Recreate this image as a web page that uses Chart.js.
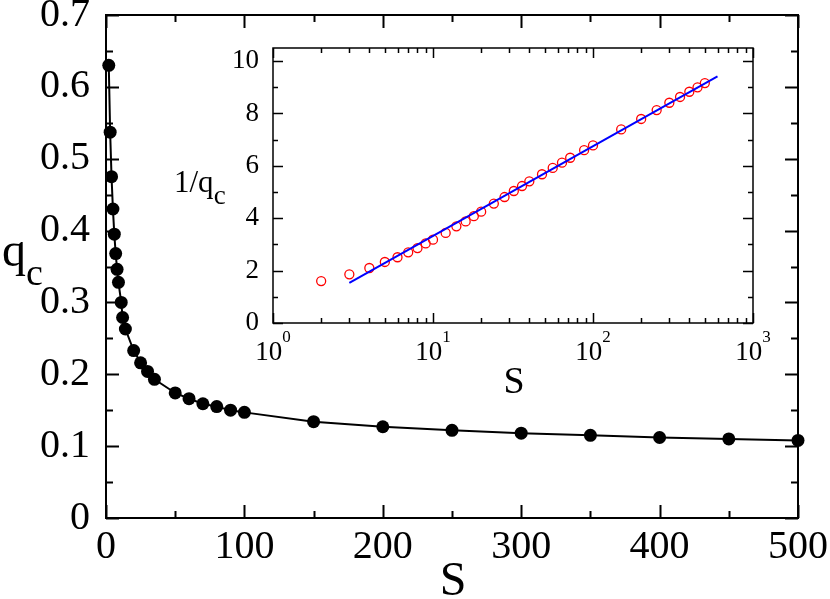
<!DOCTYPE html>
<html>
<head>
<meta charset="utf-8">
<script src="https://cdn.jsdelivr.net/npm/chart.js@4.4.1/dist/chart.umd.min.js"></script>
<style>
  html, body { margin: 0; padding: 0; background: #fff; }
  #wrap { position: relative; width: 830px; height: 599px; overflow: hidden; font-family: 'Liberation Serif', 'Times New Roman', serif; color: #000; }
  canvas { position: absolute; }
  #main { left: 0; top: 0; }
  #inset { left: 200px; top: 30px; pointer-events: none; }
  .lbl { position: absolute; line-height: 1; white-space: nowrap; }
  .sub { position: relative; }
</style>
</head>
<body>
<div id="wrap">
  <canvas id="main" width="830" height="599"></canvas>
  <canvas id="inset" width="600" height="360"></canvas>
  <div class="lbl" id="xTitle" style="font-size:48px; left:453px; top:555px; transform:translateX(-50%);">S</div>
  <div class="lbl" id="yTitle" style="font-size:48px; left:2px; top:226px;">q<span class="sub" style="font-size:38px; top:19px;">c</span></div>
  <div class="lbl" id="insetYTitle" style="font-size:31px; left:174px; top:166px;">1/q<span class="sub" style="font-size:27px; top:12px;">c</span></div>
  <div class="lbl" id="insetXTitle" style="font-size:38px; left:514px; top:361px; transform:translateX(-50%);">S</div>
</div>
<script>
// main panel: q_c against S
const mainS = [2, 3, 4, 5, 6, 7, 8, 9, 11, 12, 14, 20, 25, 30, 35, 50, 60, 70, 80, 90, 100,
  150, 200, 250, 300, 350, 400, 450, 500];
const mainQ = [0.630, 0.537, 0.475, 0.430, 0.395, 0.368, 0.346, 0.328, 0.300, 0.279, 0.263, 0.233,
  0.216, 0.204, 0.193, 0.174, 0.166, 0.159, 0.155, 0.150, 0.147,
  0.134, 0.127, 0.122, 0.118, 0.115, 0.112, 0.110, 0.108];
const mainXTicks = [0, 100, 200, 300, 400, 500];
const mainXMinor = [50, 150, 250, 350, 450];
const mainYTicks = [0, 0.1, 0.2, 0.3, 0.4, 0.5, 0.6, 0.7];
const mainYLabels = ['0', '0.1', '0.2', '0.3', '0.4', '0.5', '0.6', '0.7'];
const mainYMinor = [0.05, 0.15, 0.25, 0.35, 0.45, 0.55, 0.65];

// inset: 1/q_c against S on log axis
const insetS = [2, 3, 4, 5, 6, 7, 8, 9, 10, 12, 14, 16, 18, 20, 24, 28, 32, 36, 40, 48, 56, 64, 72, 88, 100,
  150, 200, 250, 300, 350, 400, 450, 500];
const insetV = [1.60, 1.86, 2.10, 2.33, 2.51, 2.70, 2.86, 3.04, 3.18, 3.44, 3.69, 3.88, 4.08, 4.25, 4.56,
  4.81, 5.04, 5.23, 5.41, 5.68, 5.92, 6.12, 6.31, 6.60, 6.78,
  7.39, 7.79, 8.13, 8.41, 8.63, 8.83, 9.00, 9.16];
const fitS = [3, 600];
const fitV = [1.53, 9.42];
const insetXTicks = [1, 10, 100, 1000];
const insetXExp = ['0', '1', '2', '3'];
const insetXMinor = [2, 3, 4, 5, 6, 7, 8, 9, 20, 30, 40, 50, 60, 70, 80, 90, 200, 300, 400, 500, 600, 700, 800, 900];
const insetYTicks = [0, 2, 4, 6, 8, 10];
const insetYMinor = [1, 3, 5, 7, 9];

const SERIF = "'Liberation Serif', 'Times New Roman', serif";

// frame plus inward ticks on all four sides
const frameTicks = {
  id: 'frameTicks',
  beforeDatasetsDraw(chart, args, opts) {
    const { ctx, chartArea: a, scales } = chart;
    const xs = scales.x;
    const ys = scales.y;
    ctx.save();
    ctx.strokeStyle = '#000';
    ctx.lineWidth = opts.lineWidth;
    ctx.strokeRect(a.left, a.top, a.right - a.left, a.bottom - a.top);
    ctx.beginPath();
    const xt = (vals, len) => {
      vals.forEach((v) => {
        const p = Math.round(xs.getPixelForValue(v)) + 0.5;
        ctx.moveTo(p, a.bottom); ctx.lineTo(p, a.bottom - len);
        ctx.moveTo(p, a.top); ctx.lineTo(p, a.top + len);
      });
    };
    const yt = (vals, len) => {
      vals.forEach((v) => {
        const p = Math.round(ys.getPixelForValue(v)) + 0.5;
        ctx.moveTo(a.left, p); ctx.lineTo(a.left + len, p);
        ctx.moveTo(a.right, p); ctx.lineTo(a.right - len, p);
      });
    };
    xt(opts.xMajor, opts.major); xt(opts.xMinor, opts.minor);
    yt(opts.yMajor, opts.major); yt(opts.yMinor, opts.minor);
    ctx.stroke();
    ctx.restore();
  },
};

// 10^n labels under the log axis
const powerLabels = {
  id: 'powerLabels',
  afterDraw(chart, args, opts) {
    if (!opts.values) return;
    const { ctx, chartArea: a, scales } = chart;
    ctx.save();
    ctx.fillStyle = '#000';
    ctx.textBaseline = 'alphabetic';
    ctx.textAlign = 'left';
    opts.values.forEach((v, i) => {
      const p = scales.x.getPixelForValue(v);
      ctx.font = '27px ' + SERIF;
      const wb = ctx.measureText('10').width;
      ctx.font = '17px ' + SERIF;
      const we = ctx.measureText(opts.exps[i]).width;
      const start = p - (wb + we) / 2;
      ctx.font = '27px ' + SERIF;
      ctx.fillText('10', start, a.bottom + 37);
      ctx.font = '17px ' + SERIF;
      ctx.fillText(opts.exps[i], start + wb, a.bottom + 19);
    });
    ctx.restore();
  },
};

Chart.register(frameTicks, powerLabels);

const pts = (xs, ys) => xs.map((x, i) => ({ x, y: ys[i] }));

function fixBox(w, h) {
  return (s) => {
    if (w != null) s.width = w;
    if (h != null) s.height = h;
    s.paddingTop = 0; s.paddingBottom = 0; s.paddingLeft = 0; s.paddingRight = 0;
  };
}

new Chart(document.getElementById('main'), {
  type: 'scatter',
  data: {
    datasets: [{
      data: pts(mainS, mainQ),
      showLine: true,
      borderColor: '#000',
      borderWidth: 2,
      pointRadius: 6.5,
      pointBackgroundColor: '#000',
      pointBorderWidth: 0,
      clip: false,
    }],
  },
  options: {
    responsive: false,
    animation: false,
    events: [],
    layout: { padding: { left: 0, top: 15, right: 32, bottom: 0 } },
    plugins: {
      legend: { display: false },
      tooltip: { enabled: false },
      frameTicks: { lineWidth: 2, major: 13, minor: 7, xMajor: mainXTicks, xMinor: mainXMinor, yMajor: mainYTicks, yMinor: mainYMinor },
    },
    scales: {
      x: {
        type: 'linear', min: 0, max: 500,
        afterBuildTicks: (s) => { s.ticks = mainXTicks.map((value) => ({ value })); },
        afterFit: fixBox(null, 81),
        grid: { display: false },
        border: { display: false },
        ticks: { color: '#000', font: { family: SERIF, size: 40 }, padding: -3, maxRotation: 0, autoSkip: false, callback: (v) => String(v) },
      },
      y: {
        type: 'linear', min: 0, max: 0.7,
        afterBuildTicks: (s) => { s.ticks = mainYTicks.map((value) => ({ value })); },
        afterFit: fixBox(106, null),
        grid: { display: false },
        border: { display: false },
        ticks: { color: '#000', font: { family: SERIF, size: 40 }, padding: 8, autoSkip: false,
          callback: (v) => mainYLabels[mainYTicks.findIndex((t) => Math.abs(t - v) < 1e-9)] },
      },
    },
  },
});

new Chart(document.getElementById('inset'), {
  type: 'scatter',
  data: {
    datasets: [
      {
        data: pts(fitS, fitV),
        showLine: true,
        borderColor: '#0000ff',
        borderWidth: 2,
        pointRadius: 0,
      },
      {
        data: pts(insetS, insetV),
        showLine: false,
        pointRadius: 4.5,
        pointBorderColor: '#ff0000',
        pointBackgroundColor: 'rgba(0,0,0,0)',
        pointBorderWidth: 1.3,
      },
    ],
  },
  options: {
    responsive: false,
    animation: false,
    events: [],
    layout: { padding: { left: 0, top: 18, right: 47, bottom: 0 } },
    plugins: {
      legend: { display: false },
      tooltip: { enabled: false },
      frameTicks: { lineWidth: 1.5, major: 10, minor: 5, xMajor: insetXTicks, xMinor: insetXMinor, yMajor: insetYTicks, yMinor: insetYMinor },
      powerLabels: { values: insetXTicks, exps: insetXExp },
    },
    scales: {
      x: {
        type: 'logarithmic', min: 1, max: 1000,
        afterFit: fixBox(null, 67),
        grid: { display: false },
        border: { display: false },
        ticks: { display: false },
      },
      y: {
        type: 'linear', min: 0, max: 10.5,
        afterBuildTicks: (s) => { s.ticks = insetYTicks.map((value) => ({ value })); },
        afterFit: fixBox(73, null),
        grid: { display: false },
        border: { display: false },
        ticks: { color: '#000', font: { family: SERIF, size: 27 }, padding: 6, autoSkip: false },
      },
    },
  },
});
</script>
</body>
</html>
